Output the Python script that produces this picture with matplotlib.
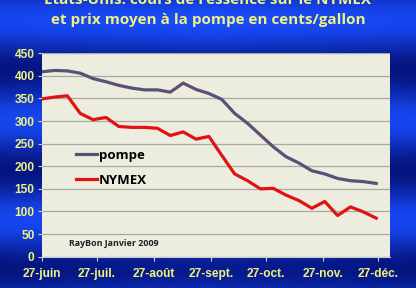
import numpy as np
import matplotlib
matplotlib.use("Agg")
import matplotlib.pyplot as plt

# weekly observations, days counted from 27 June 2008
days = np.arange(0, 183, 7)
pompe = [409, 412, 411, 406, 394, 387, 379, 373, 369, 369, 364, 384, 370, 361,
         348, 317, 295, 269, 243, 221, 207, 190, 183, 173, 168, 166, 162]
nymex = [349, 353, 356, 317, 303, 308, 288, 286, 286, 284, 268, 276, 260, 266,
         224, 183, 168, 150, 151, 136, 124, 107, 122, 91, 110, 99, 85]
tick_days = [0, 30, 61, 92, 122, 153, 183]
tick_labels = ["27-juin", "27-juil.", "27-août", "27-sept.", "27-oct.", "27-nov.", "27-déc."]

YELLOW = "#eef27e"

fig = plt.figure(figsize=(4.16, 2.88), dpi=100)

# blue banded background
bg = fig.add_axes([0, 0, 1, 1], zorder=-10)
yy = np.linspace(0, 1, 300)[:, None]
xx = np.linspace(0, 1, 200)[None, :]
band = 0.5 + 0.5 * np.cos(2 * np.pi * (yy * 288 - 20) / 100.0)
edge = 1 - 0.35 * np.abs(xx - 0.5) * 2
t = band * 0.7 + 0.3 * edge
dark = np.array([0.0, 0.03, 0.38])
light = np.array([0.10, 0.30, 1.0])
img = dark + (light - dark) * t[..., None]
bg.imshow(img, aspect="auto", extent=[0, 1, 0, 1], origin="upper")
bg.set_axis_off()

ax = fig.add_axes([0.100, 0.109, 0.8375, 0.706])
ax.set_facecolor("#ecedde")
ax.plot(days, pompe, color="#5b5075", lw=2.3, label="pompe", solid_joinstyle="round")
ax.plot(days, nymex, color="#e31212", lw=2.3, label="NYMEX", solid_joinstyle="round")

ax.set_xlim(0, 189.5)
ax.set_ylim(0, 450)
ax.set_yticks(range(0, 451, 50))
ax.set_xticks(tick_days)
ax.set_xticklabels(tick_labels)
ax.yaxis.grid(True, color="#a8aaa0", lw=0.9)
ax.set_axisbelow(True)
for s in ("top", "right", "left"):
    ax.spines[s].set_visible(False)
ax.spines["bottom"].set_color("#c8c8c8")
ax.tick_params(colors="#d0d0d0", length=3, width=0.8, pad=2)
for lab in ax.get_xticklabels() + ax.get_yticklabels():
    lab.set_color(YELLOW)
    lab.set_fontweight("bold")
    lab.set_fontsize(8.6)
    lab.set_family("Liberation Sans")
ax.tick_params(axis="x", pad=5)

leg = ax.legend(loc="upper left", bbox_to_anchor=(0.065, 0.59), frameon=False,
                handlelength=1.6, handletextpad=0.1, labelspacing=0.95,
                prop={"family": "Open Sans", "weight": "bold", "size": 9.5})

ax.text(0.08, 0.055, "RayBon Janvier 2009", transform=ax.transAxes,
        fontsize=6.4, fontweight="bold", family="Open Sans", color="#202020")

fig.text(0.5, 1.0, "États-Unis: cours de l'essence sur le NYMEX", ha="center",
         va="center", color=YELLOW, fontsize=11, fontweight="bold", family="Open Sans")
fig.text(0.5, 0.93, "et prix moyen à la pompe en cents/gallon", ha="center",
         va="center", color=YELLOW, fontsize=11, fontweight="bold", family="Open Sans")

fig.savefig("out.png", dpi=100)
